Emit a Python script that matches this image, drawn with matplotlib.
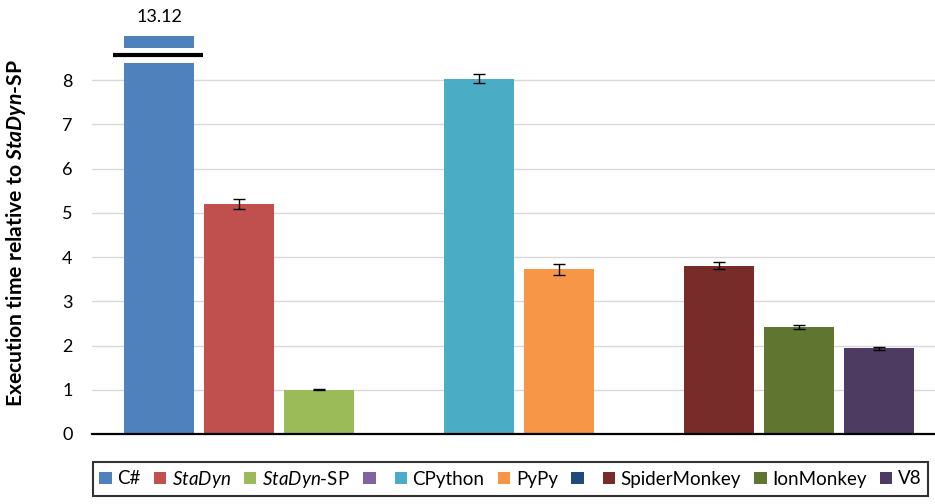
import matplotlib
matplotlib.use("Agg")
import matplotlib.pyplot as plt
from matplotlib.patches import Patch, Rectangle
import numpy as np

plt.rcParams['font.family'] = ['Lato', 'DejaVu Sans']
plt.rcParams['mathtext.fontset'] = 'custom'
plt.rcParams['mathtext.rm'] = 'Lato'
plt.rcParams['mathtext.it'] = 'Lato:italic'
plt.rcParams['mathtext.bf'] = 'Lato:bold'
plt.rcParams['mathtext.bfit'] = 'Lato:bold:italic'

labels = ["C#", r"$\mathit{StaDyn}$", r"$\mathit{StaDyn}$-SP", "", "CPython", "PyPy", "",
          "SpiderMonkey", "IonMonkey", "V8"]
values = [13.12, 5.20, 1.00, 0, 8.03, 3.72, 0, 3.80, 2.42, 1.94]
errors = [0, 0.12, 0.01, 0, 0.10, 0.12, 0, 0.08, 0.05, 0.03]
colors = ["#4F81BD", "#C0504D", "#9BBB59", "#8064A2", "#4BACC6", "#F79646", "#1F497D",
          "#772C2A", "#5F7530", "#4D3B62"]
present = [True, True, True, False, True, True, False, True, True, True]
yticks = [0, 1, 2, 3, 4, 5, 6, 7, 8]

fig = plt.figure(figsize=(9.35, 5.04), dpi=100)
ax = fig.add_axes([92/935, 1 - 434/504, (935 - 92)/935, (434 - 36)/504])

x = np.arange(len(values))
w = 0.875
for i in range(len(values)):
    if not present[i]:
        continue
    ax.bar(x[i], values[i], width=w, color=colors[i], zorder=2)
    if errors[i] > 0:
        ax.errorbar(x[i], values[i], yerr=errors[i], fmt='none', ecolor='black',
                    elinewidth=1, capsize=4, capthick=1, zorder=3)

ymax = 9.0
ax.set_ylim(0, ymax)
ax.set_xlim(-0.84, 9.7)
ax.set_yticks(yticks)
ax.set_xticks([])
ax.tick_params(axis='y', length=0, labelsize=13, pad=14)
ax.yaxis.grid(True, color='#D9D9D9', linewidth=1, zorder=0)
ax.set_axisbelow(True)
for s in ['left', 'right', 'top']:
    ax.spines[s].set_visible(False)
ax.spines['bottom'].set_linewidth(1.6)
ax.spines['bottom'].set_zorder(4)

# axis break on the C# bar
ax.add_patch(Rectangle((x[0] - w/2 - 0.02, 8.38), w + 0.04, 0.34, facecolor='white',
                       edgecolor='none', zorder=3, clip_on=False))
ax.plot([x[0] - 0.575, x[0] + 0.55], [8.57, 8.57], color='black', linewidth=3,
        zorder=4, clip_on=False, solid_capstyle='butt')
ax.annotate(f"{values[0]:.2f}", xy=(x[0], ymax), xytext=(0, 8), textcoords='offset points',
            ha='center', va='bottom', fontsize=13, annotation_clip=False)

ax.set_ylabel(r"Execution time relative to $\mathbfit{StaDyn}$-SP", fontsize=15.2,
              fontweight='bold')
ax.yaxis.set_label_coords(-64/843, 0.505)

handles = [Patch(facecolor=c, edgecolor='none') for c in colors]
leg = fig.legend(handles, labels, loc='center', bbox_to_anchor=(510.5/935, 1 - 479/504),
                 ncol=len(labels), frameon=True, fontsize=13.5, handlelength=0.65,
                 handleheight=0.65, handletextpad=0.3, columnspacing=0.72,
                 borderpad=0.35, fancybox=False)
leg.get_frame().set_edgecolor('black')
leg.get_frame().set_linewidth(1.5)

fig.savefig("out.png", dpi=100)
